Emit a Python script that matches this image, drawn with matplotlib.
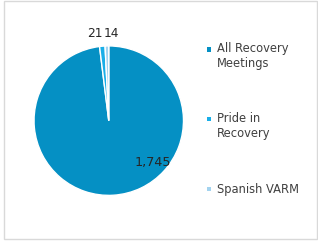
import matplotlib
matplotlib.use("Agg")
import matplotlib.pyplot as plt
from matplotlib.patches import Rectangle

categories = ["All Recovery\nMeetings", "Pride in\nRecovery", "Spanish VARM"]
values = [1745, 21, 14]
colors = ["#0590c4", "#19aee8", "#a3d3ef"]

fig = plt.figure(figsize=(3.18, 2.43), dpi=100)
fig.patch.set_facecolor("white")

# outer frame
fig.add_artist(Rectangle((0.013, 0.016), 0.984, 0.98, transform=fig.transFigure,
                         fill=False, edgecolor="#d9d9d9", linewidth=1))

ax = fig.add_axes([0.107, 0.196, 0.47, 0.615])
wedges, _ = ax.pie(values, colors=colors, startangle=90, counterclock=False,
                   wedgeprops=dict(edgecolor="white", linewidth=1))
ax.set_aspect("equal")
ax.set_xlim(-1, 1)
ax.set_ylim(-1, 1)

# data labels
ax.text(0.59, -0.56, f"{values[0]:,}", ha="center", va="center",
        fontsize=9.2, color="#262626")
ax.text(-0.19, 1.17, str(values[1]), ha="center", va="center",
        fontsize=8.8, color="#262626")
ax.text(0.04, 1.17, str(values[2]), ha="center", va="center",
        fontsize=8.8, color="#262626")

# legend
text_y = [0.77, 0.48, 0.222]
mark_y = [0.798, 0.51, 0.222]
for lab, col, ty, my in zip(categories, colors, text_y, mark_y):
    fig.add_artist(Rectangle((0.652, my - 0.01), 0.012, 0.018,
                             transform=fig.transFigure, facecolor=col, edgecolor="none"))
    fig.text(0.683, ty, lab, fontsize=8.3, color="#404040", va="center",
             linespacing=1.2)

fig.savefig("out.png", dpi=100)
